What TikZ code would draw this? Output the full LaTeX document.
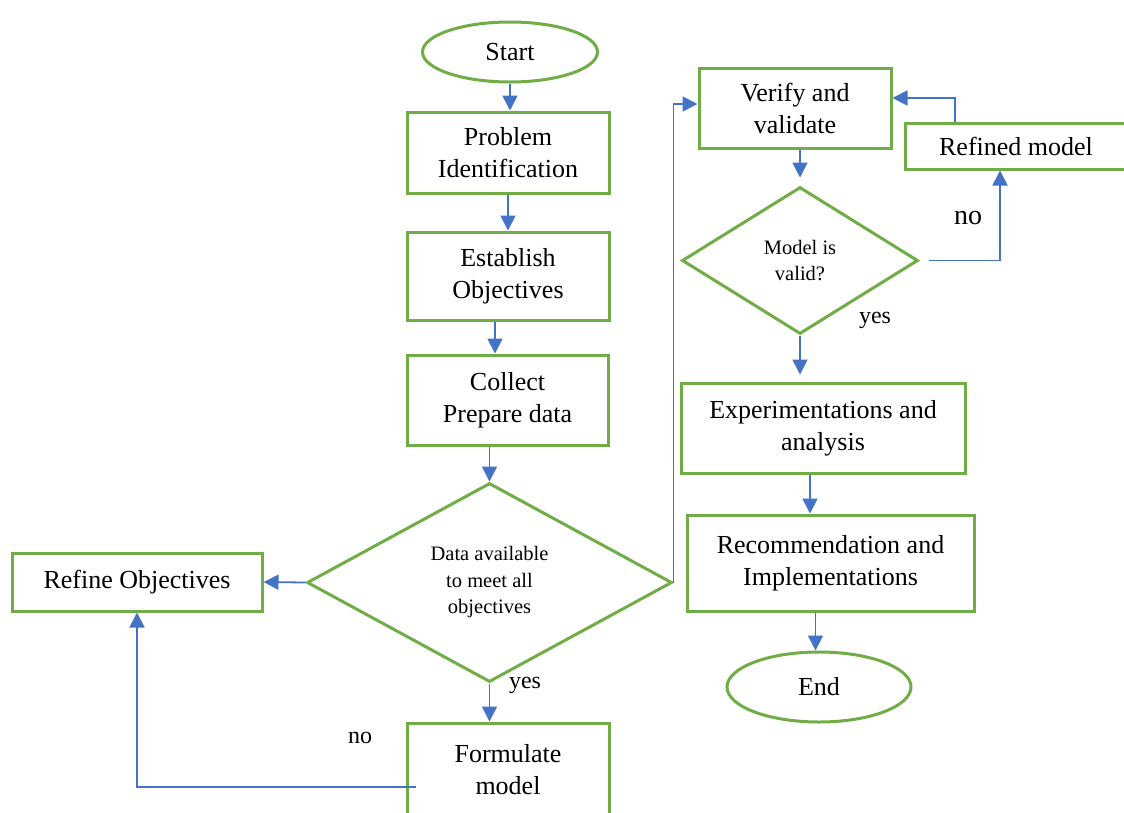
\documentclass[tikz,border=0pt]{standalone}
\usepackage{fontspec}
\setmainfont{Liberation Serif}
\usetikzlibrary{arrows.meta,shapes}

\definecolor{boxgreen}{HTML}{70AD47}
\definecolor{lineblue}{HTML}{4472C4}

\tikzset{
  box/.style={draw=boxgreen, line width=3pt, rectangle, align=center, inner sep=0pt, font=\fontsize{26}{32}\selectfont},
  term/.style={box, ellipse},
  decide/.style={draw=boxgreen, line width=3pt, diamond, align=center, inner sep=0pt, font=\fontsize{20.5}{26.5}\selectfont},
  flow/.style={draw=lineblue, line width=1.8pt, -{Triangle[length=15pt,width=15pt]}},
  lbl/.style={font=\fontsize{24}{28}\selectfont},
}

\begin{document}
\begin{tikzpicture}[x=1pt,y=-1pt]
\useasboundingbox (0,0) rectangle (1124,812);

% left column
\node[term, minimum width=175pt, minimum height=60pt] (start) at (510,52) {Start};
\node[box, minimum width=202pt, minimum height=81pt] (prob) at (508,152.5) {Problem\\Identification};
\node[box, minimum width=202pt, minimum height=88pt] (estab) at (508,276) {Establish\\Objectives};
\node[box, minimum width=201pt, minimum height=90pt] (collect) at (507.5,400) {Collect\\Prepare data};
\node[decide, minimum width=365pt, minimum height=199pt] (avail) at (489.5,582.5) {Data available\\to meet all\\objectives};
\node[box, minimum width=250pt, minimum height=58pt] (refobj) at (137,582) {Refine Objectives};
\node[box, minimum width=202pt, minimum height=94pt] (formul) at (508,770) {Formulate\\model};

% right column
\node[box, minimum width=192pt, minimum height=80pt] (verify) at (795,108) {Verify and\\validate};
\node[box, minimum width=222pt, minimum height=46pt] (refmod) at (1016,146) {Refined model};
\node[decide, minimum width=236pt, minimum height=147pt] (valid) at (800,260.5) {Model is\\valid?};
\node[box, minimum width=284pt, minimum height=90pt] (exper) at (823,428) {Experimentations and\\analysis};
\node[box, minimum width=287pt, minimum height=96pt] (recom) at (830.5,563) {Recommendation and\\Implementations};
\node[term, minimum width=184pt, minimum height=70pt] (end) at (819,687) {End};

% connectors
\draw[flow] (start.south) -- (start.south |- prob.north);
\draw[flow] (prob.south) -- (prob.south |- estab.north);
\draw[flow] ([xshift=-13pt]estab.south) -- ([xshift=-13pt]estab.south |- collect.north);
\draw[flow] (collect.south -| avail.north) -- (avail.north);
\draw[flow] (avail.south) -- (avail.south |- formul.north);
\draw[flow] (avail.west) -- (refobj.east);
\draw[flow] ([yshift=-17pt,xshift=10pt]formul.west) -| (refobj.south);
\draw[flow] (avail.east) |- ([yshift=4pt]verify.west);
\draw[flow, shorten >=8pt] (verify.south -| valid.north) -- (valid.north);
\draw[flow, shorten <=9pt] (valid.east) -| ([xshift=-16pt]refmod.south);
\draw[flow] ([xshift=-61pt]refmod.north) |- ([yshift=10pt]verify.east);
\draw[flow, shorten >=7pt] (valid.south) -- (valid.south |- exper.north);
\draw[flow] ([xshift=-13pt]exper.south) -- ([xshift=-13pt]exper.south |- recom.north);
\draw[flow] ([xshift=-15pt]recom.south) -- ([xshift=-15pt]recom.south |- end.north);

% labels
\node[lbl] (yes1) at (525,685) {yes};
\node[lbl] (no1) at (360,738) {no};
\node[lbl] (yes2) at (875,320) {yes};
\node[lbl, font=\fontsize{28}{32}\selectfont] (no2) at (968,218) {no};
\end{tikzpicture}
\end{document}
